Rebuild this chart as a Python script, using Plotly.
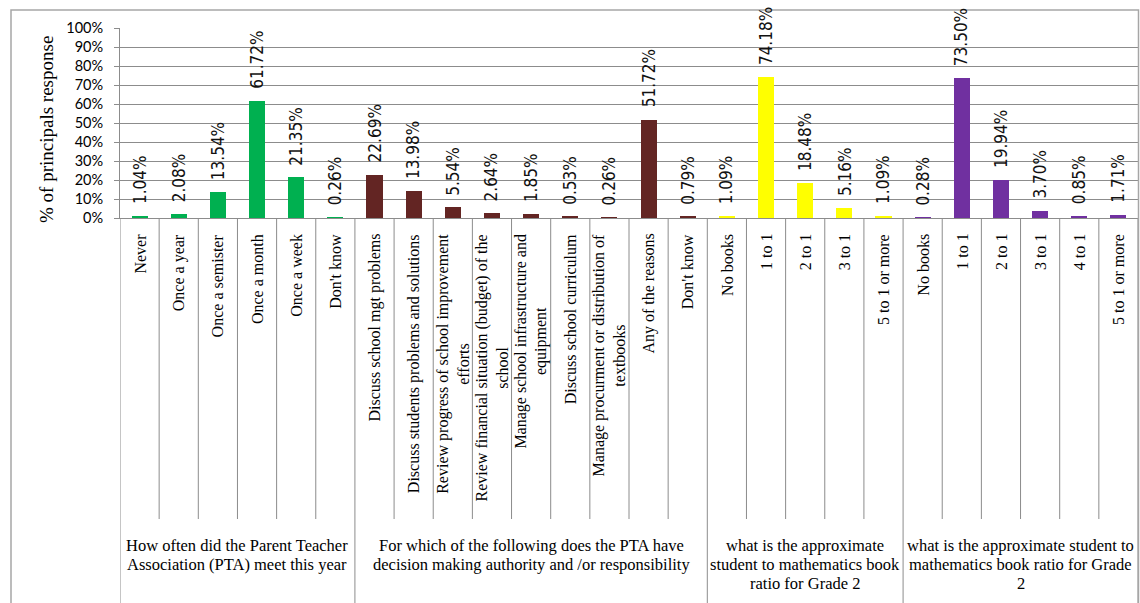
import plotly.graph_objects as go

# Survey questions, answer categories and share of principals (%)
q_meet = "How often did the Parent Teacher<br>Association (PTA) meet this year"
cat_meet = ["Never", "Once a year", "Once a semister", "Once a month",
            "Once a week", "Don't know"]
val_meet = [1.04, 2.08, 13.54, 61.72, 21.35, 0.26]

q_auth = ("For which of the following does the PTA have<br>"
          "decision making authority and /or responsibility")
cat_auth = ["Discuss school mgt problems",
            "Discuss students problems and solutions",
            "Review progress of school improvement<br>efforts",
            "Review financial situation (budget) of the<br>school",
            "Manage school infrastructure and<br>equipment",
            "Discuss school curriculum",
            "Manage procurment or distribution of<br>textbooks",
            "Any of the reasons", "Don't know"]
val_auth = [22.69, 13.98, 5.54, 2.64, 1.85, 0.53, 0.26, 51.72, 0.79]

q_ratio_a = "what is the approximate<br>student to mathematics book<br>ratio for Grade 2"
cat_ratio_a = ["No books", "1 to 1", "2 to 1", "3 to 1", "5 to 1 or more"]
val_ratio_a = [1.09, 74.18, 18.48, 5.16, 1.09]

q_ratio_b = "what is the approximate student to<br>mathematics book ratio for Grade<br>2"
cat_ratio_b = ["No books", "1 to 1", "2 to 1", "3 to 1", "4 to 1", "5 to 1 or more"]
val_ratio_b = [0.28, 73.50, 19.94, 3.70, 0.85, 1.71]

groups = [
    (q_meet, cat_meet, val_meet, "#00B050"),
    (q_auth, cat_auth, val_auth, "#632523"),
    (q_ratio_a, cat_ratio_a, val_ratio_a, "#FFFF00"),
    (q_ratio_b, cat_ratio_b, val_ratio_b, "#7030A0"),
]

# Figure geometry (pixels)
W, H = 1140, 603
ML, MR, MT, MB = 120, 2, 28, 385
PH = H - MT - MB
AXIS_Y = H - MB


def paper_y(px):
    return (AXIS_Y - px) / PH


def paper_x(px):
    return (px - ML) / (W - ML - MR)


SERIF = "Liberation Serif, Times New Roman, serif"
NARROW = "Liberation Sans Narrow, Arial Narrow, DejaVu Sans Condensed, Roboto, sans-serif"
GRID = "#8c8c8c"

fig = go.Figure()
annotations = []
shapes = []

n_total = sum(len(g[1]) for g in groups)
start = 0
for question, cats, vals, color in groups:
    xs = list(range(start, start + len(cats)))
    fig.add_trace(go.Bar(x=xs, y=[v / 100 for v in vals], width=0.41,
                         marker=dict(color=color, line=dict(width=0)),
                         hoverinfo="skip", showlegend=False))
    for x, v, c in zip(xs, vals, cats):
        annotations.append(dict(x=x, y=v / 100, xref="x", yref="y",
                                text=f"{v:.2f}%", textangle=-90,
                                xanchor="center", yanchor="bottom", yshift=10,
                                showarrow=False,
                                font=dict(family=NARROW, size=17, color="#111")))
        annotations.append(dict(x=x, y=paper_y(232), xref="x", yref="paper",
                                text=c, textangle=-90,
                                xanchor="center", yanchor="top", showarrow=False,
                                font=dict(family=SERIF, size=16, color="#000")))
    # separators between answer categories
    for x in xs[1:]:
        shapes.append(dict(type="line", xref="x", yref="paper",
                           x0=x - 0.5, x1=x - 0.5, y0=0, y1=paper_y(519),
                           line=dict(color=GRID, width=1)))
    # separator at the start of each question block
    shapes.append(dict(type="line", xref="x", yref="paper",
                       x0=start - 0.5, x1=start - 0.5, y0=0, y1=paper_y(640),
                       line=dict(color=GRID, width=1)))
    # question text, one line at a time for a tighter line pitch
    for k, line in enumerate(question.split("<br>")):
        annotations.append(dict(x=start + (len(cats) - 1) / 2,
                                y=paper_y(545 + 19 * k),
                                xref="x", yref="paper", text=line,
                                xanchor="center", yanchor="middle",
                                showarrow=False,
                                font=dict(family=SERIF, size=16.5, color="#000")))
    start += len(cats)

shapes.append(dict(type="line", xref="x", yref="paper",
                   x0=n_total - 0.5, x1=n_total - 0.5, y0=0, y1=paper_y(640),
                   line=dict(color=GRID, width=1)))

# outer chart border
shapes.append(dict(type="rect", xref="paper", yref="paper",
                   x0=paper_x(11), x1=paper_x(1138.5), y0=paper_y(660), y1=paper_y(10),
                   line=dict(color="#a6a6a6", width=1.5), fillcolor="rgba(0,0,0,0)",
                   layer="above"))

annotations.append(dict(x=paper_x(46), y=paper_y(130), xref="paper", yref="paper",
                        text="% of principals response", textangle=-90,
                        xanchor="center", yanchor="middle", showarrow=False,
                        font=dict(family=SERIF, size=19, color="#000")))

fig.update_layout(
    width=W, height=H,
    margin=dict(l=ML, r=MR, t=MT, b=MB),
    paper_bgcolor="white", plot_bgcolor="white",
    bargap=0, showlegend=False,
    xaxis=dict(range=[-0.5, n_total - 0.5], showticklabels=False, ticks="",
               showgrid=False, zeroline=False, showline=True,
               linecolor=GRID, linewidth=1),
    yaxis=dict(range=[0, 1], dtick=0.1, tickformat=".0%",
               showgrid=True, gridcolor=GRID, gridwidth=1,
               zeroline=False, showline=True, linecolor=GRID, linewidth=1,
               ticks="outside", ticklen=5, tickcolor=GRID,
               ticklabelstandoff=8,
               tickfont=dict(family="Lato, Open Sans, sans-serif", size=14.5,
                             color="#000")),
    annotations=annotations,
    shapes=shapes,
)

fig.write_html("out.html")
